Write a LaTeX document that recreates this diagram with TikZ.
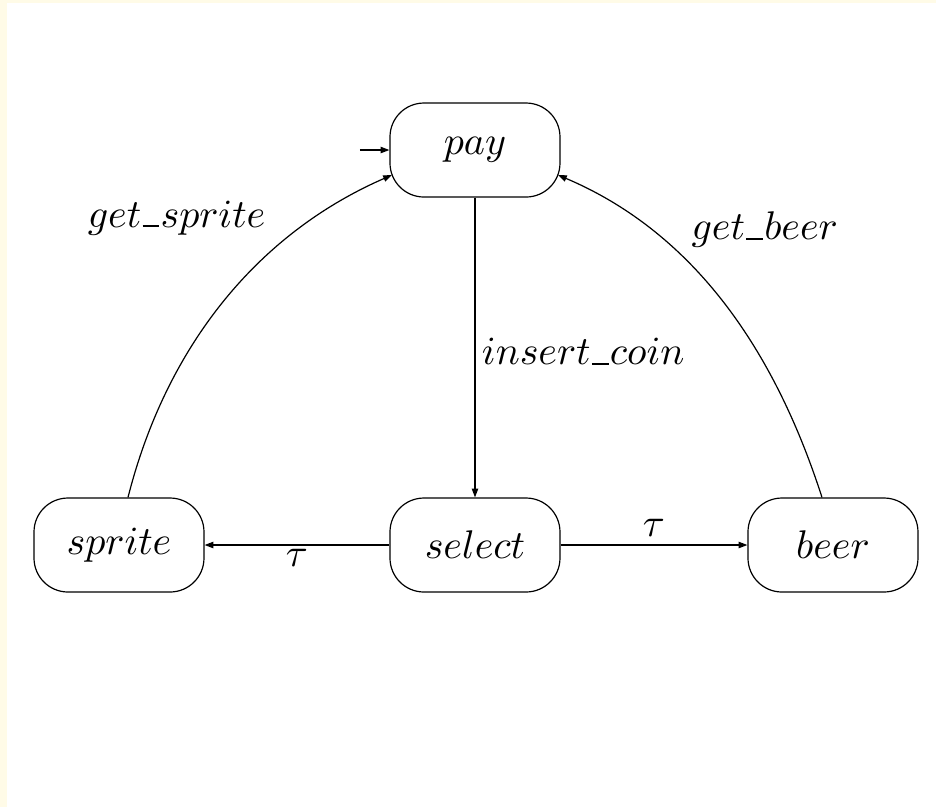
\documentclass[tikz,border=0pt]{standalone}
\usetikzlibrary{arrows.meta,calc}
\definecolor{cream}{RGB}{255,251,231}
\newcommand\usc{\mbox{\kern0.3pt\rule{4.2pt}{0.45pt}\kern0.3pt}}
\begin{document}
\begin{tikzpicture}[x=0.25pt,y=-0.25pt,
  state/.style={draw, line width=0.3pt, rounded corners=8.5pt, minimum width=42.5pt, minimum height=23.5pt, inner sep=0pt},
  edge/.style={line width=0.3pt, -{Triangle[length=2.2pt,width=1.6pt]}},
  lab/.style={inner sep=1pt}]
\fill[cream] (0,0) rectangle (936,807);
\fill[white] (7,3) rectangle (936,807);
\useasboundingbox (0,0) rectangle (936,807);
\node[state] (pay) at (475,150) {$pay$};
\node[state] (sprite) at (119,545) {$sprite$};
\node[state] (select) at (475,545) {$select$};
\node[state] (beer) at (833,545) {$beer$};
\coordinate (init) at (360,150);
\draw[edge] (init) -- (pay);
\draw[edge] (pay) -- node[lab, midway, anchor=west, xshift=0.6pt, yshift=-1pt] {$insert\usc coin$} (select);
\draw[edge] (select) -- node[lab, below] {$\tau$} (sprite);
\draw[edge] (select) -- node[lab, above, yshift=1pt] {$\tau$} (beer);
\draw[edge] ([xshift=2.25pt]sprite.north) .. controls +(37.5,-148) and +(-137.5,60) .. ([shift={(-83,25)}]pay.center)
  node[lab, pos=0.75, anchor=east, xshift=-7pt, yshift=3pt] {$get\usc sprite$};
\draw[edge] ([xshift=-2.75pt]beer.north) .. controls +(-46.5,-144.5) and +(138,58.5) .. ([shift={(83,25)}]pay.center)
  node[lab, pos=0.75, anchor=west, xshift=9pt] {$get\usc beer$};
\end{tikzpicture}
\end{document}
